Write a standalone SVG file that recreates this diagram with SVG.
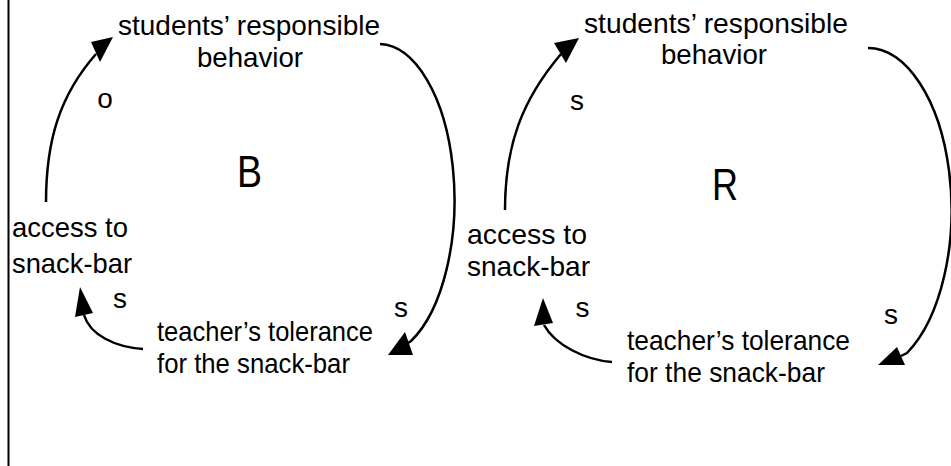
<svg xmlns="http://www.w3.org/2000/svg" width="951" height="466" viewBox="0 0 951 466">
<style>
  text { font-family: "Liberation Sans", Arial, sans-serif; font-size: 28px; fill: #000; }
  .big { font-size: 44px; }
  .mid { text-anchor: middle; }
  .conn { fill: none; stroke: #000; stroke-width: 2.5; }
  .head { fill: #000; stroke: none; }
</style>
<rect width="951" height="466" fill="#fff"/>
<line x1="8.5" y1="0" x2="8.5" y2="466" stroke="#000" stroke-width="2"/>

<g id="connectors">
  <!-- left loop (B) -->
  <path class="conn" d="M46,202 C46,140 60,95 96,54"/>
  <polygon class="head" points="113,37 91,42 100,62"/>
  <path class="conn" d="M380,44 A76,156 0 0 1 411,341 L408,343"/>
  <polygon class="head" points="388,355 405,332 413,355"/>
  <path class="conn" d="M143,349 C115,347 90,335 84,315"/>
  <polygon class="head" points="80,287 75,317 93,313"/>
  <!-- right loop (R) -->
  <path class="conn" d="M505,210 C505,145 522,100 561,54"/>
  <polygon class="head" points="579,38 554,43 566,63"/>
  <path class="conn" d="M868,48 A84,162 0 0 1 907,353 L901,356"/>
  <polygon class="head" points="878,365 897,347 905,365"/>
  <path class="conn" d="M612,362 C585,360 555,345 544,325"/>
  <polygon class="head" points="543,298 534,326 553,323"/>
</g>

<g id="left-students">
  <text class="mid" x="249" y="35" textLength="262" lengthAdjust="spacingAndGlyphs">students’ responsible</text>
  <text class="mid" x="250" y="67" textLength="106" lengthAdjust="spacingAndGlyphs">behavior</text>
</g>
<g id="left-access">
  <text x="12" y="237" textLength="116" lengthAdjust="spacingAndGlyphs">access to</text>
  <text x="12" y="273" textLength="120" lengthAdjust="spacingAndGlyphs">snack-bar</text>
</g>
<g id="left-teacher">
  <text x="157" y="341" textLength="216" lengthAdjust="spacingAndGlyphs">teacher’s tolerance</text>
  <text x="157" y="373" textLength="193" lengthAdjust="spacingAndGlyphs">for the snack-bar</text>
</g>
<g id="left-labels">
  <text class="mid" x="105" y="108">o</text>
  <text class="mid" x="120" y="308">s</text>
  <text class="mid" x="401" y="317">s</text>
  <text class="mid big" x="249.5" y="187" textLength="25" lengthAdjust="spacingAndGlyphs">B</text>
</g>

<g id="right-students">
  <text class="mid" x="716" y="33" textLength="264" lengthAdjust="spacingAndGlyphs">students’ responsible</text>
  <text class="mid" x="714" y="64" textLength="106" lengthAdjust="spacingAndGlyphs">behavior</text>
</g>
<g id="right-access">
  <text x="467" y="244" textLength="120" lengthAdjust="spacingAndGlyphs">access to</text>
  <text x="467" y="276" textLength="123" lengthAdjust="spacingAndGlyphs">snack-bar</text>
</g>
<g id="right-teacher">
  <text x="627" y="350" textLength="223" lengthAdjust="spacingAndGlyphs">teacher’s tolerance</text>
  <text x="627" y="382" textLength="198" lengthAdjust="spacingAndGlyphs">for the snack-bar</text>
</g>
<g id="right-labels">
  <text class="mid" x="577" y="110">s</text>
  <text class="mid" x="582.5" y="317">s</text>
  <text class="mid" x="891" y="324">s</text>
  <text class="mid big" x="725" y="200" textLength="26" lengthAdjust="spacingAndGlyphs">R</text>
</g>
</svg>
